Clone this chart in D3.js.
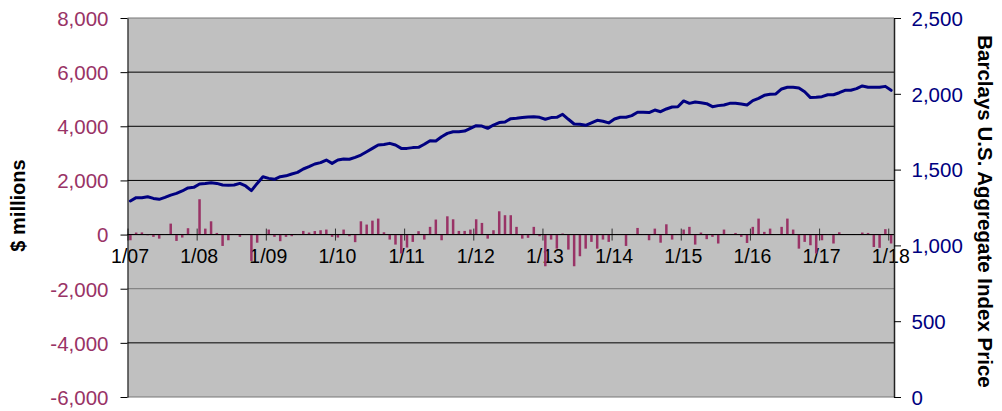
<!DOCTYPE html>
<html><head><meta charset="utf-8">
<script src="https://cdn.jsdelivr.net/npm/d3@7"></script>
<style>
body{margin:0;background:#fff}
svg{display:block}
text{font-family:"Liberation Sans",Arial,Helvetica,sans-serif}
</style>
</head><body>
<svg id="c" width="1002" height="411"></svg>
<script>
// ---- categories: monthly, Jan 2007 .. Jan 2018 ----
const categories = [];
for (let yr = 7; yr <= 18; yr++) {
  for (let m = 1; m <= 12; m++) {
    if (yr === 18 && m > 1) break;
    categories.push(m + "/" + String(yr).padStart(2, "0"));
  }
}

// ---- monthly net flows, $ millions (left axis, bars) ----
const flows = [
  -210, 75, 80, -25, -85, -150, 20, 405, -235, -110, 235, 20,
  1305, 220, 490, 60, -420, -210, 10, -85, 10, -975, -300, 20,
  185, -85, -245, -85, -60, 10, 135, 75, 130, 160, 185, -85,
  -110, 185, -60, -280, 490, 370, 515, 590, 85, -185, -370, -700,
  -480, -270, 125, -185, 285, 555, -210, 675, 565, 135, 135, 185,
  565, 430, -150, 160, 860, 715, 715, 285, -150, -120, 285, -60,
  -1170, -185, -520, 40, -555, -1170, -800, -520, -270, -520, -185, -270,
  15, 10, -420, 10, 245, 10, -210, 220, -300, 380, -185, 10,
  185, 285, -370, 75, -170, -85, -330, 185, 10, 60, -85, -310,
  285, 590, 100, 220, 15, 285, 590, 185, -520, -270, -395, -700,
  -210, 20, -330, 85, 10, -10, 10, 75, 60, -460, -490, 200,
  -330
];

// ---- Barclays U.S. Aggregate Index Price (right axis, line) ----
const indexPrice = [
  1293, 1315, 1315, 1321, 1310, 1304, 1317, 1332, 1343, 1359, 1379, 1383,
  1405, 1409, 1414, 1409, 1398, 1396, 1398, 1409, 1392, 1361, 1409, 1453,
  1442, 1436, 1453, 1459, 1471, 1482, 1504, 1519, 1537, 1546, 1563, 1541,
  1563, 1570, 1568, 1581, 1596, 1618, 1640, 1662, 1665, 1673, 1662, 1640,
  1640, 1645, 1647, 1667, 1691, 1689, 1717, 1739, 1750, 1750, 1754, 1772,
  1790, 1787, 1772, 1794, 1810, 1814, 1836, 1838, 1843, 1847, 1849, 1845,
  1832, 1843, 1845, 1865, 1832, 1801, 1799, 1792, 1809, 1825, 1819, 1808,
  1834, 1845, 1845, 1856, 1878, 1878, 1876, 1893, 1882, 1900, 1913, 1915,
  1953, 1937, 1946, 1941, 1935, 1915, 1922, 1926, 1937, 1937, 1933, 1926,
  1955, 1970, 1990, 1997, 1999, 2032, 2043, 2043, 2039, 2014, 1975, 1977,
  1981, 1994, 1994, 2007, 2023, 2023, 2034, 2052, 2043, 2043, 2043, 2049,
  2023
];

const xTickLabels = ["1/07","1/08","1/09","1/10","1/11","1/12","1/13","1/14","1/15","1/16","1/17","1/18"];
const leftTicks = [8000, 6000, 4000, 2000, 0, -2000, -4000, -6000];
const rightTicks = [0, 500, 1000, 1500, 2000, 2500];

// ---- layout ----
const plot = {left: 127.5, right: 894, top: 18, bottom: 397};
const BAR = "#993366", LINE = "#000080";
const svg = d3.select("#c");
const fmt = d => d3.format(",")(d).replace("\u2212", "-");

const x = d3.scaleBand().domain(categories).range([plot.left, plot.right]).padding(0);
const xEdge = d3.scaleLinear().domain([0, categories.length]).range([plot.left, plot.right]);
const yL = d3.scaleLinear().domain([-6000, 8000]).range([plot.bottom, plot.top]);
const yR = d3.scaleLinear().domain([0, 2500]).range([plot.bottom, plot.top]);
const bw = x.bandwidth();

// plot background
svg.append("rect")
  .attr("x", plot.left).attr("y", plot.top)
  .attr("width", plot.right - plot.left).attr("height", plot.bottom - plot.top)
  .attr("fill", "#c0c0c0");

// gridlines
svg.append("g").selectAll("line").data(leftTicks).join("line")
  .attr("x1", plot.left).attr("x2", plot.right)
  .attr("y1", d => yL(d)).attr("y2", d => yL(d))
  .attr("stroke", d => (d === 8000 || d === -6000 || d === -2000) ? "#777" : "#000")
  .attr("stroke-width", 1);

// x-axis tick labels (drawn under bars)
const yearIdx = xTickLabels.map(l => categories.indexOf(l));
const xAxis = d3.axisBottom(xEdge).tickValues(yearIdx).tickFormat(i => categories[i]).tickSize(6).tickSizeOuter(0);
const gx = svg.append("g").attr("transform", `translate(0,${yL(0)})`).call(xAxis);
gx.select(".domain").remove();
gx.selectAll(".tick line").attr("y1", -6).attr("y2", 6).attr("stroke", "#333");
gx.selectAll(".tick text")
  .attr("y", 28).attr("dy", 0).attr("x", 2)
  .attr("fill", "#000")
  .style("font-family", "'Liberation Sans Narrow','Liberation Sans',Arial,sans-serif")
  .style("font-size", "19.5px");

// bars
svg.append("g").selectAll("rect").data(flows).join("rect")
  .attr("x", (d, i) => x(categories[i]) + bw / 2 - 1.25)
  .attr("width", 2.5)
  .attr("y", d => Math.min(yL(d), yL(0)))
  .attr("height", d => Math.abs(yL(d) - yL(0)))
  .attr("fill", BAR);

// zero line
svg.append("line")
  .attr("x1", plot.left).attr("x2", plot.right)
  .attr("y1", yL(0)).attr("y2", yL(0))
  .attr("stroke", "#000").attr("stroke-width", 1);

// line series
const line = d3.line()
  .x((d, i) => x(categories[i]) + bw / 2)
  .y(d => yR(d));
svg.append("path").datum(indexPrice)
  .attr("d", line)
  .attr("fill", "none")
  .attr("stroke", LINE)
  .attr("stroke-width", 3)
  .attr("stroke-linejoin", "round")
  .attr("stroke-linecap", "round");

// left axis
const gl = svg.append("g").attr("transform", `translate(${plot.left},0)`)
  .call(d3.axisLeft(yL).tickValues(leftTicks).tickSize(7).tickSizeOuter(0).tickPadding(12).tickFormat(fmt));
gl.select(".domain").attr("stroke", "#000");
gl.selectAll(".tick line").attr("stroke", "#000");
gl.selectAll(".tick text").attr("fill", BAR).attr("dy", "0.36em")
  .style("font-family", "'Liberation Sans',Arial,sans-serif").style("font-size", "20.5px");

// right axis
const gr = svg.append("g").attr("transform", `translate(${plot.right},0)`)
  .call(d3.axisRight(yR).tickValues(rightTicks).tickSize(7).tickSizeOuter(0).tickPadding(10.5).tickFormat(fmt));
gr.select(".domain").attr("stroke", "#222").attr("stroke-width", 1.5);
gr.selectAll(".tick line").attr("stroke", "#000");
gr.selectAll(".tick text").attr("fill", LINE).attr("dy", "0.36em")
  .style("font-family", "'Liberation Sans',Arial,sans-serif").style("font-size", "20.5px");

// axis titles
svg.append("text")
  .attr("transform", "translate(18,205.5) rotate(-90)")
  .attr("text-anchor", "middle").attr("dominant-baseline", "central")
  .style("font-weight", "bold").style("font-size", "20px").attr("fill", "#000")
  .text("$ millions");
svg.append("text")
  .attr("transform", "translate(985,211.5) rotate(90)")
  .attr("text-anchor", "middle").attr("dominant-baseline", "central")
  .style("font-weight", "bold").style("font-size", "20.5px").attr("fill", "#000")
  .text("Barclays U.S. Aggregate Index Price");
</script>
</body></html>
